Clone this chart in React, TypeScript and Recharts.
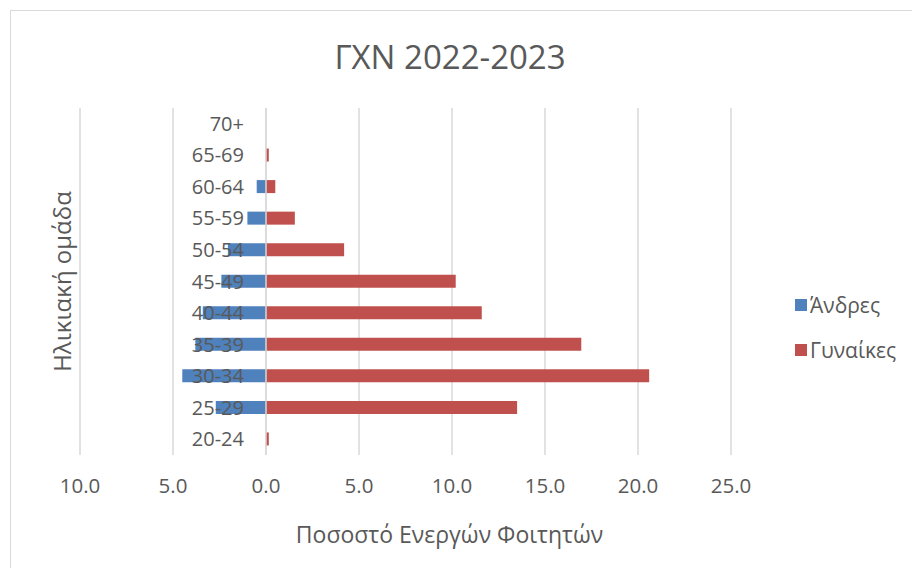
import { BarChart, Bar, XAxis, YAxis, CartesianGrid, ReferenceLine } from "recharts";

const ageGroups = ["20-24", "25-29", "30-34", "35-39", "40-44", "45-49", "50-54", "55-59", "60-64", "65-69", "70+"];
const men = [0, -2.7, -4.5, -3.8, -3.4, -2.4, -2.05, -1.0, -0.5, 0, 0];
const women = [0.15, 13.5, 20.6, 16.95, 11.6, 10.2, 4.2, 1.55, 0.5, 0.15, 0];
const xTicks = [-10, -5, 0, 5, 10, 15, 20, 25];

const seriesNames = { men: "Άνδρες", women: "Γυναίκες" };
const COLORS = { men: "#4F81BD", women: "#C0504D" };

const data = ageGroups.map((g, i) => ({ group: g, men: men[i], women: women[i] }));

const FONT = "'Open Sans', sans-serif";
const TEXT = "#595959";

const W = 912;
const H = 568;
const M = { top: 108, right: 181, bottom: 23, left: 79 };
const Y_W = 1;
const plotW = W - M.left - Y_W - M.right;
const xMin = -10;
const xMax = 25;
// distance from plot left edge to the zero line, so age labels sit next to it
const zeroOffset = (plotW * (0 - xMin)) / (xMax - xMin);

const AgeTick = (props: any) => {
  const { x, y, payload } = props;
  return (
    <text
      x={x + zeroOffset - 22}
      y={y}
      dy="0.35em"
      textAnchor="end"
      fill={TEXT}
      fontSize={20}
      fontFamily={FONT}
    >
      {payload.value}
    </text>
  );
};

const YTitle = (props: any) => {
  const { viewBox } = props;
  const cx = viewBox.x - 18;
  const cy = viewBox.y + viewBox.height / 2;
  return (
    <text
      x={cx}
      y={cy}
      transform={`rotate(-90 ${cx} ${cy})`}
      textAnchor="middle"
      dominantBaseline="central"
      fill={TEXT}
      fontSize={24}
      fontFamily={FONT}
    >
      Ηλικιακή ομάδα
    </text>
  );
};

export default function App() {
  return (
    <div style={{ position: "relative", width: W, height: H, overflow: "hidden", background: "#fff", fontFamily: FONT }}>
      <style>{"body{margin:0}"}</style>
      <div
        style={{
          position: "absolute",
          left: 10,
          top: 10,
          width: W + 20,
          height: H + 20,
          border: "1.5px solid #d9d9d9",
          boxSizing: "border-box",
        }}
      />
      <div
        style={{
          position: "absolute",
          left: 0,
          width: W - 12,
          top: 36,
          textAlign: "center",
          fontSize: 33,
          color: TEXT,
          lineHeight: "42px",
        }}
      >
        ΓΧΝ 2022-2023
      </div>
      <div style={{ position: "absolute", top: 0, left: 0 }}>
        <BarChart width={W} height={H} data={data} layout="vertical" stackOffset="sign" margin={M} barSize={13}>
          <CartesianGrid horizontal={false} stroke="#d9d9d9" strokeWidth={1.5} />
          <XAxis
            type="number"
            domain={[xMin, xMax]}
            ticks={xTicks}
            tickFormatter={(v: number) => Math.abs(v).toFixed(1)}
            axisLine={false}
            tickLine={false}
            tickMargin={17}
            height={90}
            tick={{ fill: TEXT, fontSize: 20.5, fontFamily: FONT }}
            label={{
              value: "Ποσοστό Ενεργών Φοιτητών",
              position: "insideBottom",
              offset: 2,
              dx: 44,
              fill: TEXT,
              fontSize: 23,
              fontFamily: FONT,
            }}
          />
          <YAxis
            type="category"
            dataKey="group"
            reversed
            width={Y_W}
            axisLine={false}
            tickLine={false}
            tickSize={0}
            tickMargin={0}
            interval={0}
            tick={AgeTick}
            label={<YTitle />}
          />
          <ReferenceLine x={0} stroke="#d9d9d9" strokeWidth={1.5} />
          <Bar dataKey="men" name={seriesNames.men} stackId="a" fill={COLORS.men} isAnimationActive={false} />
          <Bar dataKey="women" name={seriesNames.women} stackId="a" fill={COLORS.women} isAnimationActive={false} />
        </BarChart>
      </div>
      {(["men", "women"] as const).map((k, i) => (
        <div
          key={k}
          style={{
            position: "absolute",
            left: 795,
            top: 290 + i * 45,
            display: "flex",
            alignItems: "center",
            fontSize: 21,
            color: TEXT,
            lineHeight: "30px",
          }}
        >
          <span style={{ width: 12, height: 12, background: COLORS[k], marginRight: 3, display: "inline-block" }} />
          {seriesNames[k]}
        </div>
      ))}
    </div>
  );
}
